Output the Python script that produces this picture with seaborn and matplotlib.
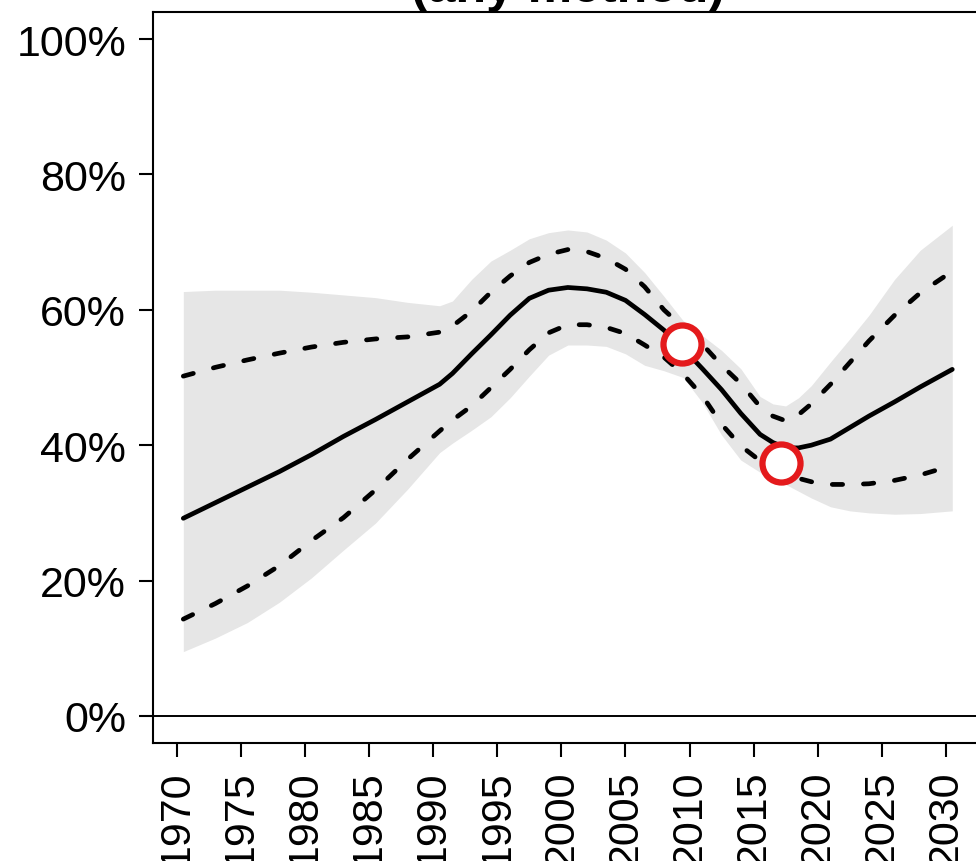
import matplotlib
matplotlib.use("Agg")
import matplotlib.pyplot as plt
import seaborn as sns
import pandas as pd

# Data (percent)
years = [1970.5, 1973, 1975.5, 1978, 1980.5, 1983, 1985.5, 1988, 1990.5, 1991.5,
         1993, 1994.5, 1996, 1997.5, 1999, 2000.5, 2002, 2003.5, 2005, 2006.5,
         2008, 2009.5, 2011, 2012.5, 2014, 2015.5, 2016.5, 2017.5, 2018.5, 2019.5,
         2021, 2022.5, 2024, 2026, 2028, 2030.5]
median = [29.2, 31.5, 33.8, 36.1, 38.6, 41.3, 43.8, 46.4, 49.0, 50.6,
          53.5, 56.3, 59.2, 61.7, 62.9, 63.3, 63.1, 62.6, 61.4, 59.3,
          57.0, 54.3, 51.3, 48.2, 44.7, 41.6, 40.4, 39.6, 39.6, 40.0,
          40.9, 42.6, 44.3, 46.4, 48.6, 51.2]
upper_80 = [50.2, 51.5, 52.6, 53.6, 54.5, 55.2, 55.7, 56.0, 56.7, 57.6,
            59.8, 62.6, 65.0, 67.0, 68.2, 68.9, 68.6, 67.6, 66.0, 63.4,
            60.0, 57.4, 54.9, 51.8, 49.1, 45.7, 44.3, 43.6, 44.5, 46.1,
            49.0, 52.2, 55.4, 59.2, 62.5, 65.7]
lower_80 = [14.3, 16.6, 19.2, 22.2, 25.9, 29.3, 33.4, 37.9, 42.1, 43.7,
            45.8, 48.5, 51.2, 54.1, 56.6, 57.8, 57.8, 57.4, 56.5, 54.8,
            53.0, 50.5, 47.3, 43.1, 39.9, 37.7, 36.6, 35.7, 35.1, 34.6,
            34.2, 34.2, 34.3, 34.8, 35.6, 37.0]
upper_95 = [62.7, 62.9, 62.9, 62.9, 62.6, 62.2, 61.8, 61.1, 60.6, 61.3,
            64.5, 67.2, 68.8, 70.5, 71.4, 71.8, 71.5, 70.3, 68.4, 65.5,
            62.0, 58.4, 56.2, 54.0, 51.3, 47.2, 46.1, 45.8, 47.0, 48.8,
            52.3, 55.7, 59.2, 64.5, 68.8, 72.5]
lower_95 = [9.5, 11.5, 13.8, 16.8, 20.4, 24.5, 28.5, 33.5, 38.9, 40.3,
            42.2, 44.2, 47.0, 50.2, 53.3, 54.8, 54.8, 54.6, 53.5, 51.8,
            51.0, 50.0, 46.3, 41.5, 37.8, 36.0, 35.2, 34.2, 33.2, 32.2,
            30.9, 30.3, 30.0, 29.8, 29.9, 30.3]
obs_years = [2009.4, 2017.1]
obs_values = [54.9, 37.4]
tick_years = list(range(1970, 2031, 5))
pct_ticks = [0, 20, 40, 60, 80, 100]

df = pd.DataFrame({"year": years, "median": median, "up80": upper_80,
                   "lo80": lower_80, "up95": upper_95, "lo95": lower_95})
obs = pd.DataFrame({"year": obs_years, "value": obs_values})

sns.set_theme(style="white")
plt.rcParams['font.family'] = ['Liberation Sans', 'DejaVu Sans']

fig = plt.figure(figsize=(9.76, 8.62), dpi=100)
ax = fig.add_axes([0.1563, 0.1369, 0.8509, 0.848])

# uncertainty band
ax.fill_between(df["year"], df["lo95"], df["up95"], color="#e6e6e6", lw=0)

dash = (0, (2.2, 4.4))
sns.lineplot(data=df, x="year", y="up80", ax=ax, color="black", lw=3.4,
             linestyle=dash, dash_capstyle="round")
sns.lineplot(data=df, x="year", y="lo80", ax=ax, color="black", lw=3.4,
             linestyle=dash, dash_capstyle="round")
sns.lineplot(data=df, x="year", y="median", ax=ax, color="black", lw=3.4,
             solid_capstyle="round", solid_joinstyle="round")
ax.axhline(0, color="black", lw=1.4)

sns.scatterplot(data=obs, x="year", y="value", ax=ax, s=750,
                color="white", edgecolor="#e41a1c", linewidth=4.5, zorder=5)

ax.set_xlim(1968.1, 2032.9)
ax.set_ylim(-4, 104)
ax.set_xticks(tick_years)
ax.set_xticklabels([str(y) for y in tick_years], rotation=90)
ax.set_yticks(pct_ticks)
ax.set_yticklabels([f"{p}%" for p in pct_ticks])
ax.set_xlabel("")
ax.set_ylabel("")
ax.tick_params(axis="both", which="major", bottom=True, left=True,
               direction="out", length=10, width=1.5, pad=9,
               labelsize=31, colors="black")
for s in ax.spines.values():
    s.set_color("black")
    s.set_linewidth(1.5)

ax.set_title("(any method)", fontsize=36, fontweight="bold", pad=8,
             color="black")

fig.savefig("out.png", dpi=100)
